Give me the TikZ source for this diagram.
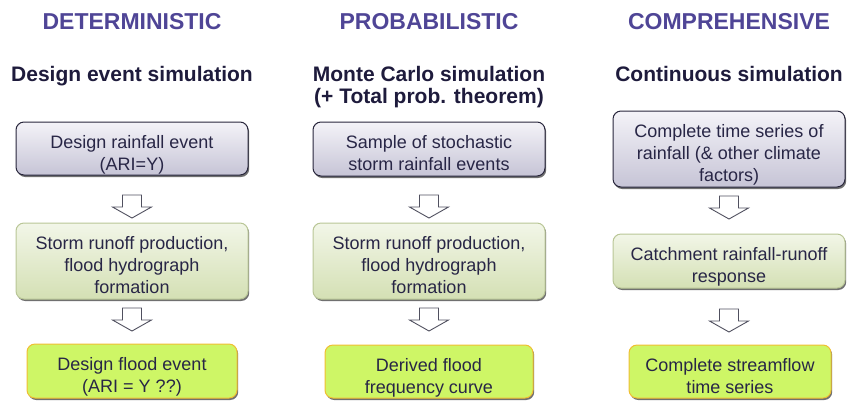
\documentclass[tikz,border=0pt]{standalone}
\usepackage{fontspec}
\setmainfont{Liberation Sans}
\usetikzlibrary{shadows}
\definecolor{titlecol}{RGB}{79,69,150}
\definecolor{subcol}{RGB}{30,27,60}
\definecolor{txtcol}{RGB}{40,38,70}
\definecolor{graytop}{RGB}{244,243,248}
\definecolor{graybot}{RGB}{198,196,214}
\definecolor{grayline}{RGB}{40,38,60}
\definecolor{greentop}{RGB}{242,246,232}
\definecolor{greenbot}{RGB}{212,224,180}
\definecolor{greenline}{RGB}{185,198,150}
\definecolor{limefill}{RGB}{206,246,102}
\definecolor{limeline}{RGB}{240,190,50}
\definecolor{arrowline}{RGB}{80,80,95}
\tikzset{
  coltitle/.style={font=\fontsize{23}{27}\selectfont\bfseries, text=titlecol, anchor=base},
  colsub/.style={font=\fontsize{21}{22}\selectfont\bfseries, text=subcol, align=center, anchor=base},
  basebox/.style={rounded corners=8pt, line width=1pt, align=center, text=txtcol,
    font=\fontsize{18}{22}\selectfont, inner sep=0pt,
    drop shadow={shadow xshift=1.2pt, shadow yshift=-2pt, fill=black!70, opacity=0.8}},
  twoline/.style={text height=48pt, text depth=5pt},
  threeline/.style={text height=70pt, text depth=5pt},
  graybox/.style={basebox, draw=grayline, top color=graytop, bottom color=graybot},
  greenbox/.style={basebox, draw=greenline, top color=greentop, bottom color=greenbot},
  limebox/.style={basebox, draw=limeline, fill=limefill},
  blockarrow/.style={draw=arrowline, fill=white, line width=0.9pt, line join=miter}
}
\newcommand\downblock[3]{% name, x, ytop
  \draw[blockarrow] (#2-9.5,#3) -- (#2+9.5,#3) -- (#2+9.5,#3+12) -- (#2+19.5,#3+12)
    -- (#2,#3+23) -- (#2-19.5,#3+12) -- (#2-9.5,#3+12) -- cycle;
  \coordinate (#1) at (#2,#3);}
\begin{document}
\begin{tikzpicture}[x=1pt,y=-1pt]
\useasboundingbox (0,0) rectangle (848,400);
% column 1
\node[coltitle] (t1) at (132,29) {DETERMINISTIC};
\node[colsub] (s1) at (132,81) {Design event simulation};
\node[graybox, twoline, minimum width=232pt, minimum height=53pt] (a1) at (132,148.5) {Design rainfall event\\(ARI=Y)};
\node[greenbox, threeline, minimum width=232pt, minimum height=76pt] (b1) at (132,261) {Storm runoff production,\\flood hydrograph\\formation};
\node[limebox, twoline, minimum width=210pt, minimum height=54pt] (c1) at (132,371) {Design flood event\\(ARI = Y ??)};
\downblock{ar11}{132}{195}
\downblock{ar12}{132}{308}
% column 2
\node[coltitle] (t2) at (429,29) {PROBABILISTIC};
\node[colsub] (s2) at (429,103) {Monte Carlo simulation\\(+ Total prob. theorem)};
\node[graybox, twoline, minimum width=232pt, minimum height=54pt] (a2) at (429,149) {Sample of stochastic\\storm rainfall events};
\node[greenbox, threeline, minimum width=232pt, minimum height=76pt] (b2) at (429,261) {Storm runoff production,\\flood hydrograph\\formation};
\node[limebox, twoline, minimum width=208pt, minimum height=53pt] (c2) at (429,371.5) {Derived flood\\frequency curve};
\downblock{ar21}{429}{195}
\downblock{ar22}{429}{308}
% column 3
\node[coltitle] (t3) at (729,29) {COMPREHENSIVE};
\node[colsub] (s3) at (729,81) {Continuous simulation};
\node[graybox, threeline, minimum width=232pt, minimum height=76pt] (a3) at (729,149) {Complete time series of\\rainfall (\& other climate\\factors)};
\node[greenbox, twoline, minimum width=232pt, minimum height=54pt] (b3) at (729,261) {Catchment rainfall-runoff\\response};
\node[limebox, twoline, minimum width=202pt, minimum height=53pt] (c3) at (730,371.5) {Complete streamflow\\time series};
\downblock{ar31}{729}{196}
\downblock{ar32}{729}{309}
\end{tikzpicture}
\end{document}
